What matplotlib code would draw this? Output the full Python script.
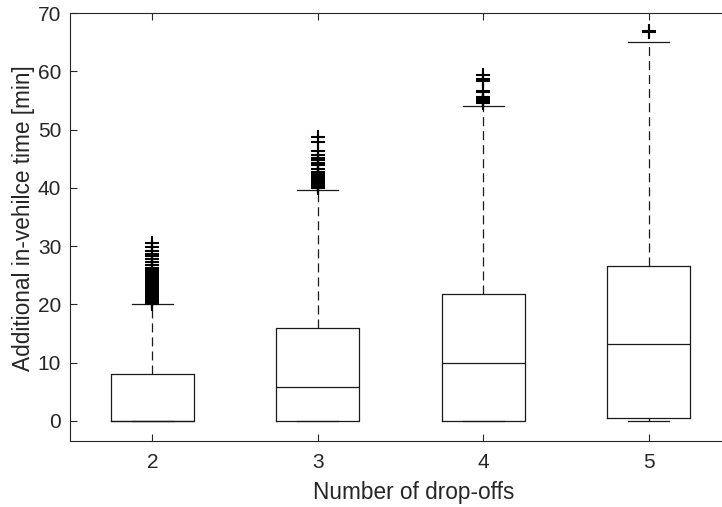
import matplotlib
matplotlib.use("Agg")
import matplotlib.pyplot as plt

plt.rcParams['font.family'] = ['Liberation Sans', 'DejaVu Sans']
plt.rcParams['lines.scale_dashes'] = False

# ---- data (minutes) ----
groups = ["2", "3", "4", "5"]
q1 = [0.0, 0.0, 0.0, 0.5]
med = [0.0, 5.8, 10.0, 13.2]
q3 = [8.0, 16.0, 21.8, 26.6]
whislo = [0.0, 0.0, 0.0, 0.0]
whishi = [20.0, 39.7, 54.1, 65.0]

fliers_2 = [20.1, 20.3, 20.5, 20.7, 20.9, 21.1, 21.3, 21.5, 21.7, 21.9, 22.1,
            22.3, 22.5, 22.7, 22.9, 23.1, 23.3, 23.5, 23.7, 23.9, 24.1, 24.3,
            24.5, 24.7, 24.9, 25.1, 25.3, 25.5, 25.7, 25.9, 26.1, 26.3,
            26.8, 27.2, 27.7, 28.3, 28.7, 29.2, 29.8, 30.6]
fliers_3 = [39.9, 40.1, 40.3, 40.5, 40.7, 40.9, 41.1, 41.3, 41.5,
            41.9, 42.1, 42.3, 42.5, 42.7,
            43.2, 43.9, 44.2, 44.7, 45.2, 45.6, 46.3, 47.8, 48.7]
fliers_4 = [54.5, 54.7, 54.9, 55.1, 55.3, 55.5, 56.4, 56.6, 58.4, 58.6, 59.4]
fliers_5 = [66.7, 66.9]
fliers = [fliers_2, fliers_3, fliers_4, fliers_5]

yticks = [0, 10, 20, 30, 40, 50, 60, 70]

fig = plt.figure(figsize=(7.22, 5.07), dpi=100)
fig.patch.set_facecolor('white')
ax = fig.add_axes([69.5 / 722, 66.3 / 507, 662 / 722, 427.7 / 507])

stats = []
for i, g in enumerate(groups):
    stats.append(dict(label=g, q1=q1[i], med=med[i], q3=q3[i],
                      whislo=whislo[i], whishi=whishi[i], fliers=fliers[i]))

positions = list(range(1, len(groups) + 1))
ax.bxp(stats, positions=positions, widths=0.5, showfliers=True,
       boxprops=dict(color='#1a1a1a', linewidth=0.9),
       medianprops=dict(color='#1a1a1a', linewidth=0.9),
       whiskerprops=dict(color='#1a1a1a', linewidth=0.9, dashes=(6.5, 3.6)),
       capprops=dict(color='#1a1a1a', linewidth=0.9),
       flierprops=dict(marker='+', markersize=9.5, markeredgewidth=1.5,
                       markeredgecolor='black', linestyle='none'))

ax.set_xlim(0.5, 4.5)
ax.set_ylim(-3.4, 70)
ax.set_xticks(positions)
ax.set_xticklabels(groups)
ax.set_yticks(yticks)

axcol = '#262626'
for s in ax.spines.values():
    s.set_color(axcol)
    s.set_linewidth(0.8)
ax.tick_params(direction='in', length=5, width=0.8, color=axcol,
               labelcolor=axcol, labelsize=15, top=True, right=True)
ax.tick_params(axis='x', pad=9)
ax.tick_params(axis='y', pad=6)

ax.set_xlabel("Number of drop-offs", fontsize=16.3, color=axcol, labelpad=6)
ax.set_ylabel("Additional in-vehilce time [min]", fontsize=16.3, color=axcol,
              labelpad=2)
ax.xaxis.label.set_x(0.52)
ax.yaxis.label.set_y(0.52)

fig.savefig("out.png", dpi=100, facecolor='white')
